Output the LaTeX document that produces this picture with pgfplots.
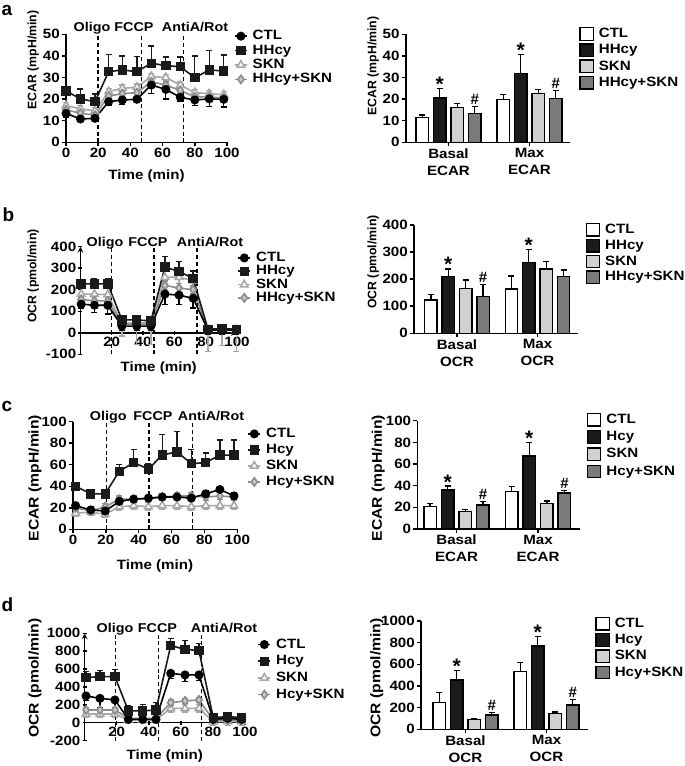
\documentclass[border=0pt]{standalone}
\usepackage{fontspec}
\usepackage{pgfplots}
\usepackage{pgfplotstable}
\pgfplotsset{compat=1.18}

\newfontfamily\tfam{Liberation Sans}[FakeStretch=1.12]
\newfontfamily\yfam{Liberation Sans}
\newcommand\tf{\tfam\bfseries\fontsize{13.5}{17}\selectfont}
\newcommand\drugf{\tfam\bfseries\fontsize{12.8}{15}\selectfont}
\newcommand\yfa{\yfam\bfseries\fontsize{12.3}{14}\selectfont}
\newcommand\yfc{\tfam\bfseries\fontsize{14}{16}\selectfont}
\newcommand\letf{\yfam\bfseries\fontsize{19}{22}\selectfont}
\newcommand\starf{\yfam\bfseries\fontsize{21}{22}\selectfont}
\newcommand\hashf{\yfam\bfseries\fontsize{15}{17}\selectfont}

\definecolor{hhc}{HTML}{1A1A1A}
\definecolor{sknc}{HTML}{A8A8A8}
\definecolor{hsc}{HTML}{8C8C8C}
\definecolor{hsfill}{HTML}{C8C8C8}
\definecolor{barskn}{HTML}{D0D0D0}
\definecolor{barhs}{HTML}{7A7A7A}

% seahorse traces
\pgfplotstableread{
t    ctl  ctle hh   hhe  skn  skne hs   hse
0    13.4 2    23.8 2    17   1.5  15   1.5
9    10.8 1    20.1 4.5  15.5 1.5  13.5 1.5
18   11.1 1.5  18.8 3.5  14.5 1.5  12.5 1.5
26.5 18.8 1.5  32.7 8    23.5 1.5  21.5 1.5
35   19.6 2    33.5 6.5  25   1.5  22.5 1.5
44   19.9 1.5  32.7 7    25.5 1.5  23   1.5
53   26.5 4    36.6 8    30.5 1.5  28   1.5
62   24.5 4.5  35.5 4    30   1.5  26.5 1.5
71   20.8 2    35.0 4.5  26.5 1.5  24   1.5
80   19.6 2.5  29.9 10   23   1.5  21   1.5
89   20.1 3.5  33.5 9    22.5 1.5  21   1.5
98   19.9 3.5  33.0 7.5  22   1.5  20.5 1.5
}\tabA
\pgfplotstableread{
t    ctl ctle hh  hhe skn skne hs  hse
0.5  133 20   227 20  180 15   155 20
9    128 35   227 25  180 15   148 20
17.5 128 40   227 25  177 15   148 20
26.5 31  20   60  15  45  60   40  20
36   31  20   60  15  45  100  40  20
45   31  20   55  15  47  100  40  20
54   180 50   305 50  258 30   220 20
63   175 45   285 45  258 30   208 20
72   160 45   252 35  242 30   200 20
81.5 12  20   16  10  14  100  14  20
90.5 14  20   20  10  17  75   14  20
99.5 12  20   16  10  14  100  14  20
}\tabB
\pgfplotstableread{
t    ctl ctle hh hhe skn skne hs hse
1.6  22  2    40 2   15  3    20 3
10.8 18  3    33 4   16  3    17 3
19.6 17  2    33 3   14  3    21 3
28.2 26  2    54 6   21  3    28 3
36.9 28  2    62 12  22  3    28 3
45.9 29  2    56 5   21  3    28 3
54.3 30  2    69 19  22  3    30 3
63.3 30  2    72 19  22  3    31 3
72   29  2    61 13  21  3    31 3
80.8 33  3    62 9   22  3    30 3
89.4 37  3    69 14  22  3    31 3
98   31  3    69 14  22  3    30 3
}\tabC
\pgfplotstableread{
t    ctl ctle hh  hhe skn skne hs  hse
0.9  299 50   504 70  97  40   142 30
9.6  272 100  515 70  97  40   142 30
18.9 254 110  515 80  97  40   142 30
27.3 37  20   131 60  30  40   48  30
36.2 37  20   131 70  30  40   48  30
44.5 37  20   142 80  30  40   48  30
53.7 552 60   862 80  160 40   224 30
62.6 534 70   821 100 160 40   243 30
71.3 534 60   806 80  160 40   254 30
80.2 37  20   56  20  11  40   30  30
89.2 48  20   67  20  11  40   30  30
97.9 37  20   56  20  11  40   30  30
}\tabD

\pgfplotsset{
  gp/.style={scale only axis, axis lines=left, axis line style={-, line width=1.6pt},
    tick style={black, line width=1.5pt}, major tick length=4pt, tick align=outside,
    ticklabel style={font=\tf, inner sep=2pt}, clip=false,
    legend cell align=left,
    legend style={draw=none, fill=none, font=\tf, anchor=north west, inner sep=0pt,
      column sep=5pt, nodes={inner sep=0pt, text height=9.8pt, text depth=2.6pt}}},
  gpline/.style={gp, xmin=0, xmax=100,
    legend image code/.code={\draw[mark repeat=2, mark phase=2, ##1] plot coordinates {(0pt,0pt) (6pt,0pt) (12pt,0pt)};}},
  gpbar/.style={gp, ybar, bar width=0.154, ymin=0, xtick={1,2},
    xticklabel style={align=center},
    legend image code/.code={\draw[##1, line width=1.3pt] (0pt,-6.3pt) rectangle (13.3pt,6.3pt);}},
  eb/.style={/pgfplots/error bars/y dir=#1, /pgfplots/error bars/y explicit,
    /pgfplots/error bars/error bar style={line width=1.35pt, solid},
    /pgfplots/error bars/error mark options={line width=1.35pt, mark size=3pt, rotate=90}},
  sctl/.style={black, line width=1.6pt, mark=*, mark size=3.7pt},
  shh/.style={hhc, line width=1.6pt, mark=square*, mark size=3.9pt},
  sskn/.style={sknc, line width=1.6pt, mark=triangle*, mark size=4.3pt, mark options={fill=white}},
  shs/.style={hsc, line width=1.6pt, mark=diamond*, mark size=4.1pt, mark options={fill=hsfill}},
  bctl/.style={draw=black, line width=1.4pt, fill=white, bar shift=-0.324, eb=plus},
  bhh/.style={draw=black, line width=1.4pt, fill=hhc, bar shift=-0.108, eb=plus},
  bskn/.style={draw=black, line width=1.4pt, fill=barskn, bar shift=0.108, eb=plus},
  bhs/.style={draw=black, line width=1.4pt, fill=barhs, bar shift=0.324, eb=plus},
}
\newcommand\drug[2]{\draw[black, line width=1.5pt, dash pattern=on 4pt off 2.8pt] (axis cs:#1,#2) -- (axis cs:#1,\pgfkeysvalueof{/pgfplots/ymax});}
\newcommand\st[2]{\node[font=\starf, anchor=base, yshift=-3pt, inner sep=0pt] at (axis cs:#1,#2) {*};}
\newcommand\hs[2]{\node[font=\hashf, anchor=base, yshift=2pt, inner sep=0pt] at (axis cs:#1,#2) {\#};}
\newcommand\traces[5]{%
  \addplot[sskn, eb=#4, forget plot] table[x=t, y=skn, y error=skne] {#1};
  \addplot[shs, eb=#5, forget plot] table[x=t, y=hs, y error=hse] {#1};
  \addplot[sctl, eb=#2, forget plot] table[x=t, y=ctl, y error=ctle] {#1};
  \addplot[shh, eb=#3, forget plot] table[x=t, y=hh, y error=hhe] {#1};}

\begin{document}
\begin{tikzpicture}
\useasboundingbox (0pt,0pt) rectangle (685pt,-766pt);

% ---- a ----
\begin{axis}[gpline, at={(66pt,-142.3pt)}, anchor=south west, width=161pt, height=108pt,
  ymin=0, ymax=50, ytick={0,10,...,50}, yticklabels={0,10,20,30,40,50},
  xtick={0,20,...,100}, xticklabels={0,20,40,60,80,100},
  legend style={at={(1.043,1.042)}, row sep=2pt}]
\traces{\tabA}{minus}{plus}{both}{both}
\addlegendimage{sctl}\addlegendentry{CTL}
\addlegendimage{shh}\addlegendentry{HHcy}
\addlegendimage{sskn}\addlegendentry{SKN}
\addlegendimage{shs}\addlegendentry{HHcy+SKN}
\drug{20}{0}\drug{47}{0}\drug{73}{0}
\end{axis}

\begin{axis}[gpbar, at={(405.7pt,-142.3pt)}, anchor=south west, width=164.3pt, height=108pt,
  xmin=0.472, xmax=2.5, ymax=50, ytick={0,10,...,50}, yticklabels={0,10,20,30,40,50},
  xticklabels={{Basal\\ECAR},{Max\\ECAR}},
  legend style={at={(1.055,1.069)}, row sep=2.3pt}]
\addplot[bctl] coordinates {(1,11.5) +- (0,1.2) (2,19.8) +- (0,2.3)};
\addplot[bhh] coordinates {(1,20.5) +- (0,4.5) (2,31.8) +- (0,8.8)};
\addplot[bskn] coordinates {(1,16) +- (0,2) (2,22.5) +- (0,2)};
\addplot[bhs] coordinates {(1,13.3) +- (0,3.3) (2,20.3) +- (0,3.7)};
\legend{CTL,HHcy,SKN,HHcy+SKN}
\st{0.892}{25}\hs{1.324}{16.6}\st{1.892}{40.6}\hs{2.324}{24}
\end{axis}

% ---- b ----
\begin{axis}[gpline, at={(80.4pt,-354.3pt)}, anchor=south west, width=156.6pt, height=107.6pt,
  axis x line=middle, axis y line=left,
  ymin=-100, ymax=400, ytick={-100,0,...,400}, yticklabels={-100,0,100,200,300,400},
  xtick={20,40,...,100}, xticklabels={20,40,60,80,100},
  legend style={at={(1.002,0.955)}, row sep=0.9pt}]
\traces{\tabB}{minus}{plus}{minus}{both}
\addlegendimage{sctl}\addlegendentry{CTL}
\addlegendimage{shh}\addlegendentry{HHcy}
\addlegendimage{sskn}\addlegendentry{SKN}
\addlegendimage{shs}\addlegendentry{HHcy+SKN}
\drug{20}{-100}\drug{47}{-100}\drug{74.5}{-100}
\end{axis}

\begin{axis}[gpbar, at={(414pt,-333.3pt)}, anchor=south west, width=164pt, height=108.3pt,
  xmin=0.466, xmax=2.503, ymax=400, ytick={0,100,...,400}, yticklabels={0,100,200,300,400},
  xticklabels={{Basal\\OCR},{Max\\OCR}},
  legend style={at={(1.045,1.023)}, row sep=2pt}]
\addplot[bctl] coordinates {(1,123) +- (0,21) (2,164) +- (0,48)};
\addplot[bhh] coordinates {(1,209) +- (0,29) (2,262) +- (0,48)};
\addplot[bskn] coordinates {(1,166) +- (0,31) (2,238) +- (0,27)};
\addplot[bhs] coordinates {(1,137) +- (0,44) (2,210) +- (0,24)};
\legend{CTL,HHcy,SKN,HHcy+SKN}
\st{0.892}{238}\hs{1.324}{181}\st{1.892}{310}
\end{axis}

% ---- c ----
\begin{axis}[gpline, at={(73pt,-529.3pt)}, anchor=south west, width=164.3pt, height=107.6pt,
  ymin=0, ymax=100, ytick={0,20,...,100}, yticklabels={0,20,40,60,80,100},
  xtick={0,20,...,100}, xticklabels={0,20,40,60,80,100},
  legend style={at={(1.061,0.946)}, row sep=3.6pt}]
\traces{\tabC}{both}{plus}{minus}{both}
\addlegendimage{sctl}\addlegendentry{CTL}
\addlegendimage{shh}\addlegendentry{Hcy}
\addlegendimage{sskn}\addlegendentry{SKN}
\addlegendimage{shs}\addlegendentry{Hcy+SKN}
\drug{20.5}{0}\drug{46.4}{0}\drug{72.6}{0}
\end{axis}

\begin{axis}[gpbar, at={(417.3pt,-529pt)}, anchor=south west, width=162.7pt, height=108.3pt,
  xmin=0.519, xmax=2.515, ymax=100, ytick={0,20,...,100}, yticklabels={0,20,40,60,80,100},
  xticklabels={{Basal\\ECAR},{Max\\ECAR}},
  legend style={at={(1.041,1.076)}, row sep=3.4pt}]
\addplot[bctl] coordinates {(1,20.6) +- (0,3) (2,34.5) +- (0,5)};
\addplot[bhh] coordinates {(1,36) +- (0,3.7) (2,67.4) +- (0,12.6)};
\addplot[bskn] coordinates {(1,16) +- (0,2) (2,23.4) +- (0,2.6)};
\addplot[bhs] coordinates {(1,22) +- (0,3.5) (2,33.2) +- (0,2.5)};
\legend{CTL,Hcy,SKN,Hcy+SKN}
\st{0.892}{39.7}\hs{1.324}{25.5}\st{1.892}{80}\hs{2.324}{35.7}
\end{axis}

% ---- d ----
\begin{axis}[gpline, at={(84.6pt,-740.5pt)}, anchor=south west, width=160.4pt, height=107.2pt,
  axis x line=middle, axis y line=left,
  ymin=-200, ymax=1000, ytick={-200,0,...,1000}, yticklabels={-200,0,200,400,600,800,1000},
  xtick={20,40,...,100}, xticklabels={20,40,60,80,100},
  legend style={at={(1.077,0.955)}, row sep=4.3pt}]
\traces{\tabD}{minus}{plus}{both}{both}
\addlegendimage{sctl}\addlegendentry{CTL}
\addlegendimage{shh}\addlegendentry{Hcy}
\addlegendimage{sskn}\addlegendentry{SKN}
\addlegendimage{shs}\addlegendentry{Hcy+SKN}
\drug{19.4}{-200}\drug{46}{-200}\drug{73}{-200}
\end{axis}

\begin{axis}[gpbar, at={(421pt,-729.3pt)}, anchor=south west, width=167pt, height=108.3pt,
  xmin=0.451, xmax=2.512, ymax=1000, ytick={0,200,...,1000}, yticklabels={0,200,400,600,800,1000},
  xticklabels={{Basal\\OCR},{Max\\OCR}},
  legend style={at={(1.042,1.042)}, row sep=2.4pt}]
\addplot[bctl] coordinates {(1,249) +- (0,89) (2,532) +- (0,83)};
\addplot[bhh] coordinates {(1,455) +- (0,87) (2,769) +- (0,86)};
\addplot[bskn] coordinates {(1,92) +- (0,8) (2,148) +- (0,12)};
\addplot[bhs] coordinates {(1,132) +- (0,22) (2,225) +- (0,49)};
\legend{CTL,Hcy,SKN,Hcy+SKN}
\st{0.892}{542}\hs{1.324}{154}\st{1.892}{855}\hs{2.324}{274}
\end{axis}

% ---- free text ----
\begin{scope}[x=1pt, y=-1pt]
\node[font=\letf, anchor=base west, inner sep=0pt] at (1.5,15) {a};
\node[font=\letf, anchor=base west, inner sep=0pt] at (2.5,221.7) {b};
\node[font=\letf, anchor=base west, inner sep=0pt] at (1.5,411.7) {c};
\node[font=\letf, anchor=base west, inner sep=0pt] at (1.5,611.7) {d};
% y labels
\node[font=\yfa, rotate=90, inner sep=0pt] at (33.3,60) {ECAR (mpH/min)};
\node[font=\yfa, rotate=90, inner sep=0pt] at (373.3,66) {ECAR (mpH/min)};
\node[font=\yfa, rotate=90, inner sep=0pt] at (33.3,276) {OCR (pmol/min)};
\node[font=\yfa, rotate=90, inner sep=0pt] at (373.3,262) {OCR (pmol/min)};
\node[font=\yfc, rotate=90, inner sep=0pt] at (35,478) {ECAR (mpH/min)};
\node[font=\yfc, rotate=90, inner sep=0pt] at (378.3,478) {ECAR (mpH/min)};
\node[font=\yfc, rotate=90, inner sep=0pt] at (35,678) {OCR (pmol/min)};
\node[font=\yfc, rotate=90, inner sep=0pt] at (376.7,678) {OCR (pmol/min)};
% x labels
\node[font=\tf, anchor=base, inner sep=0pt] at (146.5,179.3) {Time (min)};
\node[font=\tf, anchor=base, inner sep=0pt] at (158.7,371) {Time (min)};
\node[font=\tf, anchor=base, inner sep=0pt] at (155,569.3) {Time (min)};
\node[font=\tf, anchor=base, inner sep=0pt] at (164.8,759.3) {Time (min)};
% injections
\node[font=\drugf, anchor=base, inner sep=0pt] at (92,31) {Oligo};
\node[font=\drugf, anchor=base, inner sep=0pt] at (134,31) {FCCP};
\node[font=\drugf, anchor=base, inner sep=0pt] at (195,31) {AntiA/Rot};
\node[font=\drugf, anchor=base, inner sep=0pt] at (105,246) {Oligo};
\node[font=\drugf, anchor=base, inner sep=0pt] at (148,246) {FCCP};
\node[font=\drugf, anchor=base, inner sep=0pt] at (210,246) {AntiA/Rot};
\node[font=\drugf, anchor=base, inner sep=0pt] at (108.3,420) {Oligo};
\node[font=\drugf, anchor=base, inner sep=0pt] at (153,420) {FCCP};
\node[font=\drugf, anchor=base, inner sep=0pt] at (211,420) {AntiA/Rot};
\node[font=\drugf, anchor=base, inner sep=0pt] at (115,632.6) {Oligo};
\node[font=\drugf, anchor=base, inner sep=0pt] at (157.5,632.6) {FCCP};
\node[font=\drugf, anchor=base, inner sep=0pt] at (224,632.6) {AntiA/Rot};
\end{scope}
\end{tikzpicture}
\end{document}
